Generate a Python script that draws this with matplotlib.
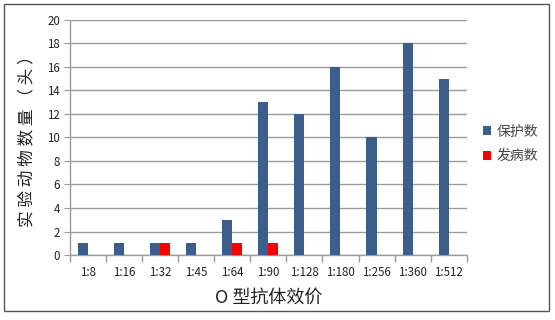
import matplotlib
matplotlib.use("Agg")
import matplotlib.pyplot as plt
import numpy as np
from matplotlib.patches import Rectangle

plt.rcParams['font.family'] = ['Noto Sans CJK SC', 'DejaVu Sans']

categories = ["1:8", "1:16", "1:32", "1:45", "1:64", "1:90", "1:128", "1:180", "1:256", "1:360", "1:512"]
protected = [1, 1, 1, 1, 3, 13, 12, 16, 10, 18, 15]
diseased = [0, 0, 1, 0, 1, 1, 0, 0, 0, 0, 0]

blue = "#3B5E8C"
red = "#FF0000"
grid_c = "#9a9a9a"

fig = plt.figure(figsize=(5.55, 3.2), dpi=100)
ax = fig.add_axes([0.126, 0.203, 0.715, 0.735])

x = np.arange(len(categories))
w = 0.28
ax.bar(x - w / 2, protected, width=w, color=blue, label="保护数", zorder=3)
ax.bar(x + w / 2, diseased, width=w, color=red, label="发病数", zorder=3)

ax.set_xlim(-0.5, len(categories) - 0.5)
ax.set_ylim(0, 20)
ax.set_yticks(range(0, 21, 2))
ax.yaxis.grid(True, color=grid_c, linewidth=1.0, zorder=0)
ax.set_axisbelow(True)

ax.set_xticks(x)
ax.set_xticklabels(categories, fontsize=8.3, color="#222222")
ax.tick_params(axis='x', length=0, pad=8)
ax.set_xticks(np.arange(-0.5, len(categories), 1), minor=True)
ax.tick_params(axis='x', which='minor', length=5, color=grid_c, width=1)
ax.tick_params(axis='y', length=4, color=grid_c, labelsize=8.3, labelcolor="#222222", pad=3)

for s in ['top', 'right']:
    ax.spines[s].set_visible(False)
for s in ['left', 'bottom']:
    ax.spines[s].set_color(grid_c)
    ax.spines[s].set_linewidth(1.0)

ax.set_xlabel("O 型抗体效价", fontsize=13, color="#222222", labelpad=7)
ax.set_ylabel("实 验 动 物 数 量 （ 头 ）", fontsize=12, color="#222222", labelpad=8)

leg = fig.legend(loc="center left", bbox_to_anchor=(0.848, 0.55), frameon=False,
                 fontsize=10, handlelength=0.6, handleheight=0.6, handletextpad=0.4,
                 labelspacing=0.75)
for t in leg.get_texts():
    t.set_color("#444444")

fig.patches.append(Rectangle((0.008, 0.028), 0.982, 0.96, transform=fig.transFigure,
                             fill=False, edgecolor="#555555", linewidth=1.0))

fig.savefig("out.png", dpi=100)
